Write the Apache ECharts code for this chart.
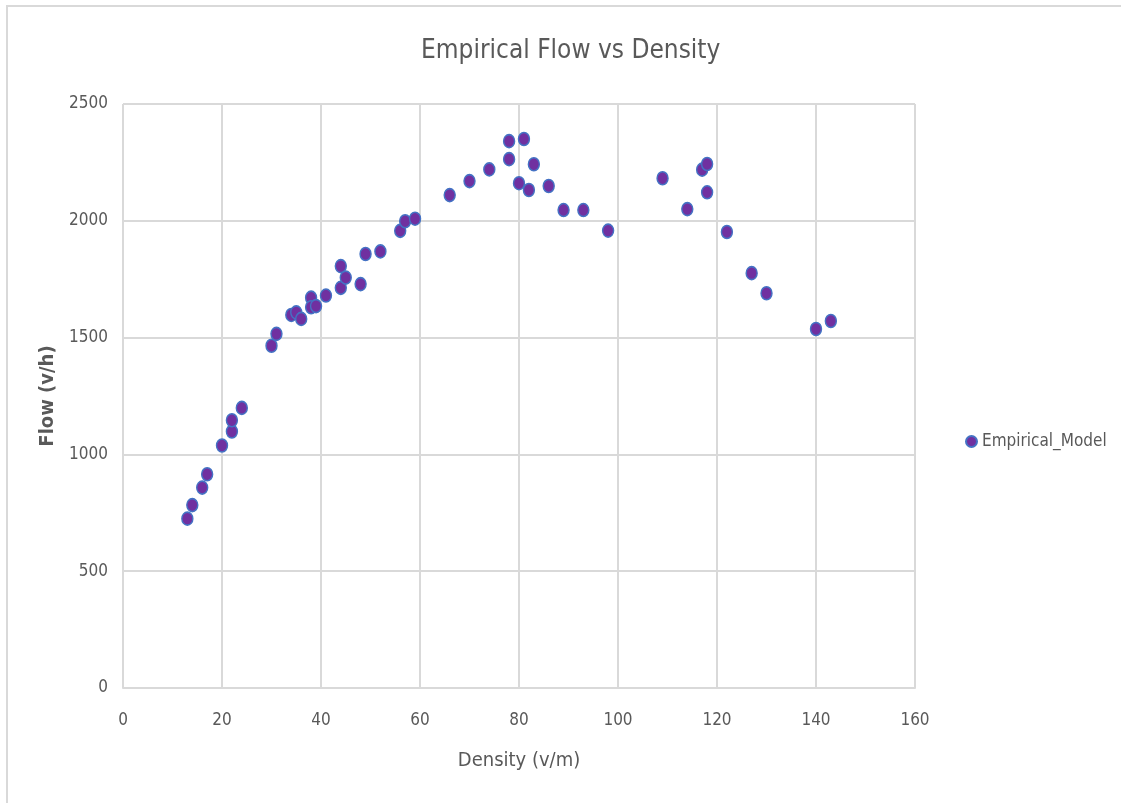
<!DOCTYPE html>
<html>
<head>
<meta charset="utf-8">
<script src="https://cdn.jsdelivr.net/npm/echarts@6/dist/echarts.min.js"></script>
<style>html,body{margin:0;padding:0;background:#fff}#c{width:1121px;height:803px}</style>
</head>
<body>
<div id="c"></div>
<script>
var density = [13,14,16,17,20,22,22,24,30,31,34,35,36,38,38,39,41,44,44,45,48,49,52,56,57,59,66,70,74,78,78,81,80,82,83,86,89,93,98,109,114,117,118,118,122,127,130,140,143];
var flow = [725,783,858,915,1038,1098,1146,1199,1465,1516,1597,1608,1580,1671,1630,1635,1680,1713,1806,1757,1729,1858,1869,1957,1998,2009,2110,2170,2220,2341,2264,2350,2161,2132,2242,2149,2046,2046,1958,2182,2050,2219,2243,2122,1952,1776,1690,1537,1571];
var seriesName = 'Empirical_Model';
var xTicks = [0,20,40,60,80,100,120,140,160];
var yTicks = [0,500,1000,1500,2000,2500];

var pts = density.map(function(d,i){return [d, flow[i]];});
var FONT = '"Liberation Sans Narrow","DejaVu Sans Condensed","Noto Sans",sans-serif';
var chart = echarts.init(document.getElementById('c'));
chart.setOption({
  backgroundColor:'#fff',
  animation:false,
  textStyle:{fontFamily:FONT},
  title:{text:'Empirical Flow vs Density',left:416,top:33,
    textStyle:{fontFamily:FONT,fontSize:26,fontWeight:'normal',color:'#595959'}},
  graphic:[{type:'rect',shape:{x:7,y:6,width:1130,height:820},style:{fill:'none',stroke:'#d9d9d9',lineWidth:2},silent:true}],
  grid:{left:123,right:206,top:104,bottom:115},
  legend:{orient:'vertical',left:960,top:428,itemWidth:11,itemHeight:13,itemGap:5,
    textStyle:{fontFamily:FONT,fontSize:17,color:'#595959'},data:[seriesName]},
  xAxis:{type:'value',min:xTicks[0],max:xTicks[xTicks.length-1],interval:20,
    name:'Density (v/m)',nameLocation:'middle',nameGap:63,
    nameTextStyle:{fontFamily:FONT,fontSize:20,color:'#595959'},
    axisLine:{show:true,lineStyle:{color:'#d9d9d9',width:2}},axisTick:{show:false},
    axisLabel:{fontFamily:FONT,fontSize:17,color:'#595959',margin:24,formatter:function(v){return String(v);}},
    splitLine:{show:true,lineStyle:{color:'#d9d9d9',width:2}}},
  yAxis:{type:'value',min:yTicks[0],max:yTicks[yTicks.length-1],interval:500,
    name:'Flow (v/h)',nameLocation:'middle',nameGap:64,
    nameTextStyle:{fontFamily:FONT,fontSize:20,color:'#595959',fontWeight:'bold'},
    axisLine:{show:false},axisTick:{show:false},
    axisLabel:{fontFamily:FONT,fontSize:17,color:'#595959',margin:15,formatter:function(v){return String(v);}},
    splitLine:{show:true,lineStyle:{color:'#d9d9d9',width:2}}},
  series:[{name:seriesName,type:'scatter',data:pts,symbol:'circle',symbolSize:[11,13],
    itemStyle:{color:'#7030A0',borderColor:'#4472C4',borderWidth:1.5,opacity:1}}]
});
</script>
</body>
</html>
